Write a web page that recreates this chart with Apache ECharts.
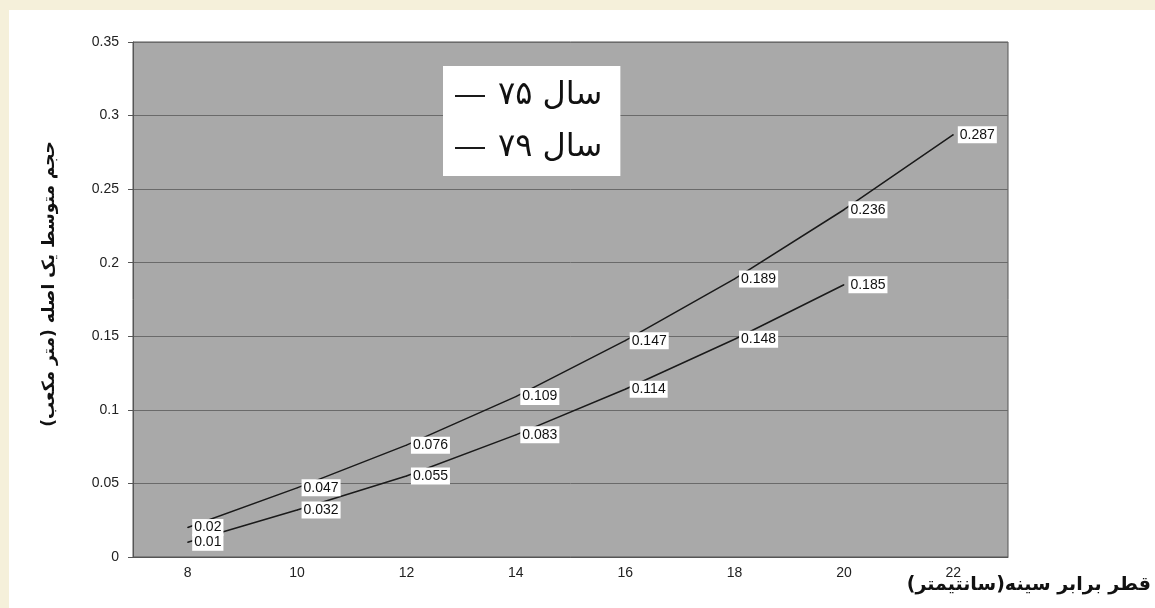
<!DOCTYPE html>
<html>
<head>
<meta charset="utf-8">
<script src="https://cdn.jsdelivr.net/npm/echarts@6/dist/echarts.min.js"></script>
<style>
html,body{margin:0;padding:0;background:#f5f0da;}
#wrap{position:absolute;left:0;top:0;width:1155px;height:608px;}
#chart{position:absolute;left:9px;top:10px;width:1146px;height:598px;background:#fff;}
</style>
</head>
<body>
<div id="wrap"><div id="chart"></div></div>
<script>
const categories = ['8','10','12','14','16','18','20','22'];
const year75 = [0.02, 0.047, 0.076, 0.109, 0.147, 0.189, 0.236, 0.287];
const year79 = [0.01, 0.032, 0.055, 0.083, 0.114, 0.148, 0.185];
const yTicks = [0, 0.05, 0.1, 0.15, 0.2, 0.25, 0.3, 0.35];
const name75 = '\u200Fسال ۷۵';
const name79 = '\u200Fسال ۷۹';
const yTitle = '\u200Fحجم متوسط یک اصله (متر مکعب)\u200F';
const xTitle = '\u200Fقطر برابر سینه(سانتیمتر)\u200F';

const chart = echarts.init(document.getElementById('chart'));
const labelStyle = {
  show: true, position: 'right', distance: 4,
  backgroundColor: '#ffffff', color: '#111', fontFamily: 'Liberation Sans',
  fontSize: 14, padding: [2, 2, 1, 2],
  formatter: p => String(p.value)
};
const option = {
  animation: false,
  grid: {left: 124, right: 147, top: 32, bottom: 51, show: true,
         backgroundColor: '#a9a9a9', borderColor: '#555', borderWidth: 1},
  legend: {
    left: 434, top: 56, orient: 'vertical', backgroundColor: '#fff',
    padding: [14, 18, 12, 12], itemGap: 20, itemWidth: 30, itemHeight: 2,
    icon: 'rect', data: [name75, name79],
    textStyle: {fontFamily: 'DejaVu Sans', fontSize: 32, color: '#111', padding: [0, 0, 0, 8]}
  },
  xAxis: {
    type: 'category', data: categories, boundaryGap: true,
    axisLine: {lineStyle: {color: '#555'}}, axisTick: {show: false},
    axisLabel: {color: '#222', fontFamily: 'Liberation Sans', fontSize: 14, margin: 9}
  },
  yAxis: {
    type: 'value', min: 0, max: 0.35, interval: 0.05,
    axisLine: {show: true, lineStyle: {color: '#555'}},
    axisTick: {show: true, length: 5, lineStyle: {color: '#555'}},
    splitLine: {lineStyle: {color: '#6a6a6a', width: 1}},
    axisLabel: {color: '#222', fontFamily: 'Liberation Sans', fontSize: 14, margin: 14,
      formatter: v => { const t = yTicks.find(x => Math.abs(x - v) < 1e-9); return String(t !== undefined ? t : v); }}
  },
  graphic: [
    {type: 'text', right: 4, top: 566, style: {text: xTitle, font: 'bold 19px "DejaVu Sans"', fill: '#111'}},
    {type: 'text', x: 41, y: 274, rotation: Math.PI / 2,
     style: {text: yTitle, font: 'bold 17px "DejaVu Sans"', fill: '#111', align: 'center', verticalAlign: 'middle'}}
  ],
  series: [
    {name: name75, type: 'line', data: year75, symbol: 'circle', symbolSize: 1,
     lineStyle: {color: '#1a1a1a', width: 1.5}, itemStyle: {color: '#1a1a1a'}, label: labelStyle},
    {name: name79, type: 'line', data: year79, symbol: 'circle', symbolSize: 1,
     lineStyle: {color: '#1a1a1a', width: 1.5}, itemStyle: {color: '#1a1a1a'}, label: labelStyle}
  ]
};
chart.setOption(option);
</script>
</body>
</html>
